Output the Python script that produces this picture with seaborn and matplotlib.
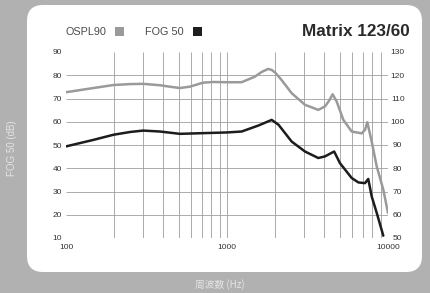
import numpy as np
import matplotlib
matplotlib.use('Agg')
import matplotlib.pyplot as plt
import seaborn as sns
from matplotlib.patches import FancyBboxPatch, Rectangle
from matplotlib.colors import LinearSegmentedColormap
from matplotlib.ticker import NullLocator
from matplotlib import font_manager

# OSPL90 curve (right axis, dB)
ospl_freq = [100, 148, 197, 250, 302, 383, 450, 510, 588, 650, 710, 820, 1000, 1233,
             1490, 1650, 1800, 1895, 2000, 2180, 2520, 3050, 3690, 4060, 4300, 4530,
             4800, 5280, 5950, 6870, 7200, 7440, 7920, 8510, 9350, 10000]
ospl_db = [112.7, 114.5, 115.8, 116.2, 116.3, 115.7, 115.0, 114.5, 115.1, 116.0, 116.8,
           117.1, 117.0, 117.0, 119.4, 121.5, 122.7, 122.3, 121.0, 118.0, 112.3, 107.3,
           105.1, 106.6, 109.0, 111.8, 108.7, 100.8, 95.8, 95.0, 96.5, 99.8, 91.5, 80.8,
           70.8, 60.8]

# FOG 50 curve (left axis, dB)
fog_freq = [100, 148, 197, 250, 302, 383, 510, 710, 1000, 1233, 1570, 1895, 2090, 2520,
            3050, 3690, 4060, 4630, 5030, 5950, 6550, 7200, 7540, 7920, 8510, 9350]
fog_db = [49.4, 52.2, 54.4, 55.6, 56.2, 55.8, 54.8, 55.1, 55.4, 55.8, 58.4, 60.8, 58.7,
          51.5, 47.2, 44.4, 45.1, 47.2, 42.2, 35.8, 33.9, 33.6, 35.4, 27.9, 20.8, 11.0]

left_ticks = [10, 20, 30, 40, 50, 60, 70, 80, 90]
right_ticks = [50, 60, 70, 80, 90, 100, 110, 120, 130]
x_ticks = [100, 1000, 10000]
x_tick_labels = ['100', '1000', '10000']
grid_freqs = [200, 300, 400, 500, 600, 700, 800, 900, 1000,
              2000, 3000, 4000, 5000, 6000, 7000, 8000, 9000]
grid_levels = [20, 30, 40, 50, 60, 70, 80]

sns.set_style('white')
plt.rcParams['font.family'] = ['Liberation Sans', 'DejaVu Sans']

names = {f.name for f in font_manager.fontManager.ttflist}
title_family = 'Liberation Sans Narrow' if 'Liberation Sans Narrow' in names else 'Liberation Sans'

fig = plt.figure(figsize=(4.3, 2.93), dpi=100)
fig.patch.set_facecolor('#b1b1b1')

# background panels, in pixel units
bg = fig.add_axes([0, 0, 1, 1], zorder=0)
bg.set_xlim(0, 430)
bg.set_ylim(0, 293)
bg.axis('off')
bg.add_patch(FancyBboxPatch((27, 21), 395, 267, boxstyle='round,pad=0,rounding_size=16',
                            fc='white', ec='none'))
clip = FancyBboxPatch((37, 30), 376, 253, boxstyle='round,pad=0,rounding_size=12',
                      fc='none', ec='none')
bg.add_patch(clip)
cmap = LinearSegmentedColormap.from_list('panel', ['#d0d4dc', '#e6e9ee', '#fbfbfc'])
grad = np.linspace(0, 1, 256).reshape(-1, 1)
im = bg.imshow(grad, extent=[37, 413, 30, 283], origin='lower', cmap=cmap, aspect='auto')
im.set_clip_path(clip)

ax = fig.add_axes([66 / 430, 55 / 293, 322 / 430, 186 / 293], zorder=1)
ax.patch.set_alpha(0)
ax.set_xscale('log')
ax.hlines(grid_levels, 100, 10000, color='#9e9e9e', lw=0.6)
ax.vlines(grid_freqs, 10, 90, color='#9e9e9e', lw=0.6)
sns.lineplot(x=fog_freq, y=fog_db, ax=ax, color='#1c1c1c', lw=1.8)
ax.set_xlim(100, 10000)
ax.set_ylim(10, 90)
ax.set_yticks(left_ticks)
ax.set_xticks(x_ticks, x_tick_labels)
ax.xaxis.set_minor_locator(NullLocator())
ax.tick_params(length=0, labelsize=6, colors='#333333')
ax.tick_params(axis='y', pad=3)
ax.tick_params(axis='x', pad=4)
for s in ax.spines.values():
    s.set_visible(False)

ax2 = ax.twinx()
sns.lineplot(x=ospl_freq, y=ospl_db, ax=ax2, color='#9a9a9a', lw=1.8)
ax2.set_ylim(50, 130)
ax2.set_yticks(right_ticks)
ax2.tick_params(length=0, labelsize=6, colors='#333333', pad=7)
for lab in ax2.get_yticklabels():
    lab.set_ha('center')
for s in ax2.spines.values():
    s.set_visible(False)
ax.set_xlabel('')
ax.set_ylabel('')
ax2.set_ylabel('')

# legend and title
bg.text(65, 261, 'OSPL90', fontsize=7.8, color='#4a4a4a', va='center', ha='left')
bg.add_patch(Rectangle((115, 257), 9, 9, fc='#9a9a9a', ec='none'))
bg.text(145, 261, 'FOG 50', fontsize=7.8, color='#4a4a4a', va='center', ha='left')
bg.add_patch(Rectangle((193, 257), 9, 9, fc='#1e1e1e', ec='none'))
bg.text(410, 262, 'Matrix 123/60', ha='right', va='center', fontsize=12.3, weight='bold',
        family=title_family, color='#2a2a2a')

bg.text(12, 145, 'FOG 50 (dB)', rotation=90, ha='center', va='center', fontsize=7,
        color='#e4e4e4')
bg.text(220, 8, '周波数 (Hz)', ha='center', va='center', fontsize=7, color='#e6e6e6',
        family=['Noto Sans CJK JP', 'DejaVu Sans'])

fig.savefig('out.png', dpi=100)
